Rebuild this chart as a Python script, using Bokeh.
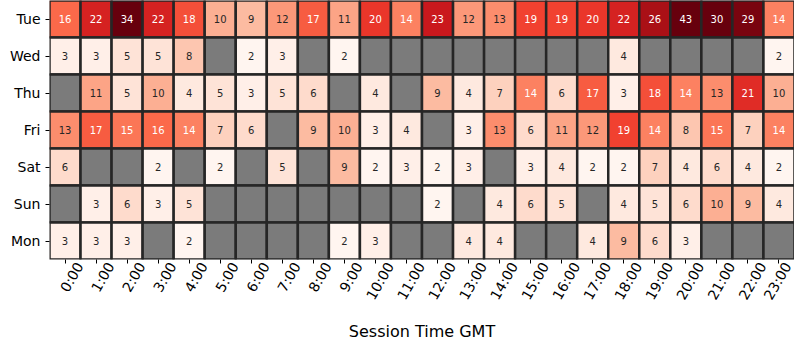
import math
import numpy as np
from bokeh.plotting import figure
from bokeh.models import (ColumnDataSource, LinearColorMapper, FactorRange, Range1d,
                          LinearAxis, FixedTicker)
from bokeh.palettes import Reds256
from bokeh.transform import transform
from bokeh.core.properties import value
from bokeh.embed import file_html
from bokeh.resources import INLINE

NaN = float("nan")

hours = [f"{h}:00" for h in range(24)]
days = ["Tue", "Wed", "Thu", "Fri", "Sat", "Sun", "Mon"]

tue = [16, 22, 34, 22, 18, 10, 9, 12, 17, 11, 20, 14, 23, 12, 13, 19, 19, 20, 22, 26, 43, 30, 29, 14]
wed = [3, 3, 5, 5, 8, NaN, 2, 3, NaN, 2, NaN, NaN, NaN, NaN, NaN, NaN, NaN, NaN, 4, NaN, NaN, NaN, NaN, 2]
thu = [NaN, 11, 5, 10, 4, 5, 3, 5, 6, NaN, 4, NaN, 9, 4, 7, 14, 6, 17, 3, 18, 14, 13, 21, 10]
fri = [13, 17, 15, 16, 14, 7, 6, NaN, 9, 10, 3, 4, NaN, 3, 13, 6, 11, 12, 19, 14, 8, 15, 7, 14]
sat = [6, NaN, NaN, 2, NaN, 2, NaN, 5, NaN, 9, 2, 3, 2, 3, NaN, 3, 4, 2, 2, 7, 4, 6, 4, 2]
sun = [NaN, 3, 6, 3, 5, NaN, NaN, NaN, NaN, NaN, NaN, NaN, 2, NaN, 4, 6, 5, NaN, 4, 5, 6, 10, 9, 4]
mon = [3, 3, 3, NaN, 2, NaN, NaN, NaN, NaN, 2, 3, NaN, NaN, 4, 4, NaN, NaN, 4, 9, 6, 3, NaN, NaN, NaN]

rows = {"Tue": tue, "Wed": wed, "Thu": thu, "Fri": fri, "Sat": sat, "Sun": sun, "Mon": mon}

VMIN, VMAX = 2, 30

def _lum(hexc):
    h = hexc.lstrip("#")
    rgb = [int(h[i:i + 2], 16) / 255 for i in (0, 2, 4)]
    rgb = [c / 12.92 if c <= 0.03928 else ((c + 0.055) / 1.055) ** 2.4 for c in rgb]
    return 0.2126 * rgb[0] + 0.7152 * rgb[1] + 0.0722 * rgb[2]

palette = list(Reds256)
if _lum(palette[0]) < _lum(palette[-1]):
    palette = palette[::-1]  # light -> dark

mapper = LinearColorMapper(palette=palette, low=VMIN, high=VMAX, nan_color="#7b7b7b")

hour_pos = list(range(len(hours)))  # position of each hour category on the x scale

xs, ys, vals = [], [], []
tx, ty, tt, tc = [], [], [], []
for d in days:
    for hp, v in zip(hour_pos, rows[d]):
        xs.append(hp); ys.append(d); vals.append(v)
        if not math.isnan(v):
            frac = min(max((v - VMIN) / (VMAX - VMIN), 0), 1)
            idx = min(int(frac * len(palette)), len(palette) - 1)
            col = palette[idx]
            tx.append(hp); ty.append(d); tt.append(str(int(v)))
            tc.append("#262626" if _lum(col) > 0.408 else "#ffffff")

cell_src = ColumnDataSource(dict(hour=xs, day=ys, val=np.array(vals, dtype=float)))
text_src = ColumnDataSource(dict(hour=tx, day=ty, label=tt, color=tc))

p = figure(
    width=794, height=344,
    x_range=Range1d(-0.5, len(hours) - 0.5),
    y_range=FactorRange(*days[::-1]),
    output_backend="svg", toolbar_location=None,
    min_border_left=49, min_border_right=0, min_border_top=0, min_border_bottom=80,
)

p.rect(x="hour", y="day", width=1, height=1, source=cell_src,
       fill_color=transform("val", mapper), line_color="#262626", line_width=2.5)

p.text(x="hour", y="day", text="label", source=text_src, text_color="color",
       text_align="center", text_baseline="middle", text_font_size="10px",
       text_font=value("DejaVu Sans"))

p.outline_line_color = None
p.xgrid.grid_line_color = None
p.ygrid.grid_line_color = None

p.xaxis.ticker = FixedTicker(ticks=hour_pos)
for ax in (p.xaxis[0], p.yaxis[0]):
    ax.axis_line_color = None
    ax.major_tick_in = 0
    ax.major_tick_out = 4
    ax.minor_tick_in = 0
    ax.minor_tick_out = 0
    ax.minor_tick_line_color = None
    ax.major_tick_line_color = "black"
    ax.major_tick_line_width = 1
    ax.major_label_text_font = "DejaVu Sans"
    ax.major_label_text_font_size = "14px"
    ax.major_label_text_color = "black"

# main x axis: tick marks only
p.xaxis.major_label_text_alpha = 0
p.xaxis.major_label_standoff = 0

# label axis: shifted so rotated labels are centred under ticks (matplotlib style)
shift = 0.47
p.extra_x_ranges = {"lab": Range1d(start=-0.5 - shift, end=len(hours) - 0.5 - shift)}
lab_axis = LinearAxis(x_range_name="lab",
                      ticker=FixedTicker(ticks=hour_pos),
                      major_label_overrides={i: h for i, h in zip(hour_pos, hours)})
lab_axis.axis_line_color = None
lab_axis.major_tick_line_color = None
lab_axis.minor_tick_line_color = None
lab_axis.major_tick_in = 0
lab_axis.major_tick_out = 0
lab_axis.minor_tick_in = 0
lab_axis.minor_tick_out = 0
lab_axis.major_label_standoff = 0
lab_axis.major_label_orientation = math.pi / 3
lab_axis.major_label_text_font = "DejaVu Sans"
lab_axis.major_label_text_font_size = "14px"
lab_axis.major_label_text_color = "black"
lab_axis.axis_label = "Session Time GMT"
lab_axis.axis_label_text_font = "DejaVu Sans"
lab_axis.axis_label_text_font_size = "16px"
lab_axis.axis_label_text_font_style = "normal"
lab_axis.axis_label_text_color = "black"
lab_axis.axis_label_standoff = 13
p.add_layout(lab_axis, "below")

open("out.html", "w").write(file_html(p, INLINE))
